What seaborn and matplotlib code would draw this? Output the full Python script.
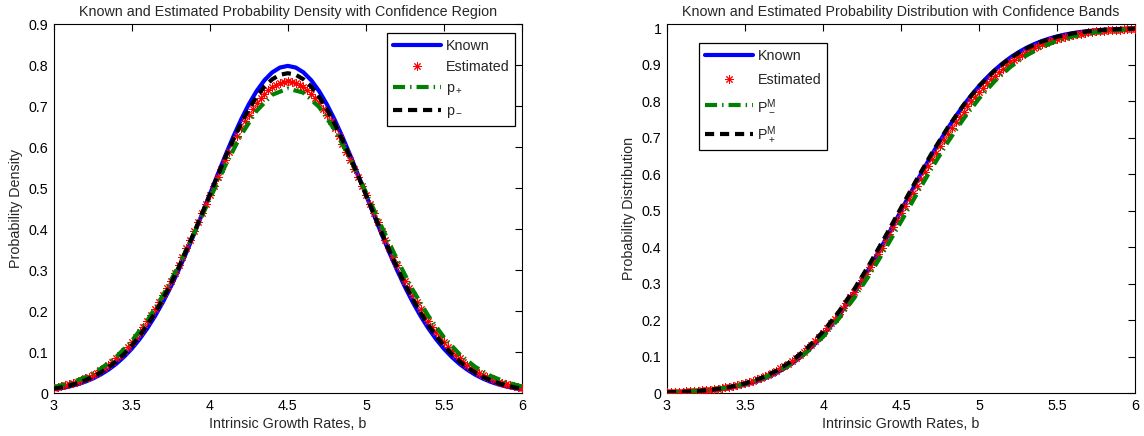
import numpy as np
import matplotlib
matplotlib.use("Agg")
import matplotlib.pyplot as plt
import seaborn as sns
from matplotlib.ticker import MultipleLocator, FuncFormatter

# ---------------- data ----------------
x_dense = np.linspace(3.0, 6.0, 121)   # step 0.025 (estimated markers)
x_fine = np.linspace(3.0, 6.0, 61)     # step 0.05
x_coarse = np.linspace(3.0, 6.0, 31)   # step 0.1

pdf_known = [0.0089, 0.0119, 0.0158, 0.0208, 0.0272, 0.0351, 0.0448, 0.0567, 0.0709, 0.0880,
             0.1080, 0.1312, 0.1579, 0.1881, 0.2218, 0.2590, 0.2995, 0.3427, 0.3884, 0.4357,
             0.4839, 0.5322, 0.5794, 0.6245, 0.6664, 0.7041, 0.7365, 0.7628, 0.7821, 0.7939,
             0.7979,
             0.7939, 0.7821, 0.7628, 0.7365, 0.7041, 0.6664, 0.6245, 0.5794, 0.5322, 0.4839,
             0.4357, 0.3884, 0.3427, 0.2995, 0.2590, 0.2218, 0.1881, 0.1579, 0.1312, 0.1080,
             0.0880, 0.0709, 0.0567, 0.0448, 0.0351, 0.0272, 0.0208, 0.0158, 0.0119, 0.0089]

pdf_estimated = [0.0128, 0.0147, 0.0168, 0.0191, 0.0217, 0.0246, 0.0279, 0.0315, 0.0354, 0.0398,
                 0.0446, 0.0499, 0.0558, 0.0621, 0.0690, 0.0765, 0.0846, 0.0934, 0.1028, 0.1130,
                 0.1238, 0.1355, 0.1478, 0.1609, 0.1748, 0.1895, 0.2049, 0.2211, 0.2380, 0.2556,
                 0.2739, 0.2928, 0.3124, 0.3325, 0.3531, 0.3741, 0.3955, 0.4171, 0.4390, 0.4609,
                 0.4828, 0.5047, 0.5263, 0.5476, 0.5685, 0.5888, 0.6085, 0.6274, 0.6454, 0.6625,
                 0.6785, 0.6932, 0.7067, 0.7188, 0.7295, 0.7387, 0.7462, 0.7522, 0.7565, 0.7590,
                 0.7599,
                 0.7590, 0.7565, 0.7522, 0.7462, 0.7387, 0.7295, 0.7188, 0.7067, 0.6932, 0.6785,
                 0.6625, 0.6454, 0.6274, 0.6085, 0.5888, 0.5685, 0.5476, 0.5263, 0.5047, 0.4828,
                 0.4609, 0.4390, 0.4171, 0.3955, 0.3741, 0.3531, 0.3325, 0.3124, 0.2928, 0.2739,
                 0.2556, 0.2380, 0.2211, 0.2049, 0.1895, 0.1748, 0.1609, 0.1478, 0.1355, 0.1238,
                 0.1130, 0.1028, 0.0934, 0.0846, 0.0765, 0.0690, 0.0621, 0.0558, 0.0499, 0.0446,
                 0.0398, 0.0354, 0.0315, 0.0279, 0.0246, 0.0217, 0.0191, 0.0168, 0.0147, 0.0128]

pdf_minus = [0.0106, 0.0140, 0.0184, 0.0240, 0.0309, 0.0394, 0.0497, 0.0623, 0.0773, 0.0948,
             0.1154, 0.1390, 0.1659, 0.1961, 0.2296, 0.2662, 0.3058, 0.3479, 0.3920, 0.4375,
             0.4837, 0.5297, 0.5745, 0.6172, 0.6567, 0.6922, 0.7226, 0.7472, 0.7652, 0.7763,
             0.7800,
             0.7763, 0.7652, 0.7472, 0.7226, 0.6922, 0.6567, 0.6172, 0.5745, 0.5297, 0.4837,
             0.4375, 0.3920, 0.3479, 0.3058, 0.2662, 0.2296, 0.1961, 0.1659, 0.1390, 0.1154,
             0.0948, 0.0773, 0.0623, 0.0497, 0.0394, 0.0309, 0.0240, 0.0184, 0.0140, 0.0106]

pdf_plus = [0.0143, 0.0237, 0.0379, 0.0587, 0.0877, 0.1267, 0.1768, 0.2382, 0.3100, 0.3897,
            0.4732, 0.5551, 0.6289, 0.6882, 0.7275, 0.7428, 0.7325, 0.6978, 0.6421, 0.5707,
            0.4899, 0.4063, 0.3254, 0.2518, 0.1881, 0.1358, 0.0947, 0.0638, 0.0415, 0.0261,
            0.0158]

cdf_known = [0.00135, 0.00187, 0.00256, 0.00347, 0.00466, 0.00621, 0.00820, 0.01072, 0.01390, 0.01786,
             0.02275, 0.02872, 0.03593, 0.04457, 0.05480, 0.06681, 0.08076, 0.09680, 0.11507, 0.13567,
             0.15866, 0.18406, 0.21186, 0.24196, 0.27425, 0.30854, 0.34458, 0.38209, 0.42074, 0.46017,
             0.50000,
             0.53983, 0.57926, 0.61791, 0.65542, 0.69146, 0.72575, 0.75804, 0.78814, 0.81594, 0.84134,
             0.86433, 0.88493, 0.90320, 0.91924, 0.93319, 0.94520, 0.95543, 0.96407, 0.97128, 0.97725,
             0.98214, 0.98610, 0.98928, 0.99180, 0.99379, 0.99534, 0.99653, 0.99744, 0.99813, 0.99865]

cdf_estimated = [0.00201, 0.00234, 0.00271, 0.00314, 0.00362, 0.00417, 0.00479, 0.00550, 0.00630, 0.00719,
                 0.00820, 0.00933, 0.01059, 0.01200, 0.01357, 0.01532, 0.01725, 0.01939, 0.02174, 0.02434,
                 0.02728, 0.03031, 0.03373, 0.03746, 0.04152, 0.04593, 0.05070, 0.05586, 0.06143, 0.06743,
                 0.07386, 0.08076, 0.08813, 0.09598, 0.10435, 0.11324, 0.12264, 0.13258, 0.14306, 0.15410,
                 0.16567, 0.17780, 0.19046, 0.20367, 0.21741, 0.23168, 0.24645, 0.26171, 0.27744, 0.29360,
                 0.31038, 0.32722, 0.34458, 0.36227, 0.38026, 0.39855, 0.41703, 0.43569, 0.45450, 0.47341,
                 0.49242, 0.51140, 0.53037, 0.54927, 0.56804, 0.58667, 0.60514, 0.62335, 0.64129, 0.65892,
                 0.67620, 0.69314, 0.70966, 0.72575, 0.74138, 0.75653, 0.77123, 0.78538, 0.79901, 0.81211,
                 0.82467, 0.83671, 0.84816, 0.85908, 0.86945, 0.87928, 0.88858, 0.89736, 0.90562, 0.91339,
                 0.92066, 0.92746, 0.93381, 0.93972, 0.94520, 0.95028, 0.95498, 0.95932, 0.96327, 0.96698,
                 0.97033, 0.97340, 0.97621, 0.97875, 0.98106, 0.98316, 0.98500, 0.98676, 0.98830, 0.98968,
                 0.99086, 0.99201, 0.99300, 0.99387, 0.99461, 0.99534, 0.99595, 0.99648, 0.99695, 0.99737,
                 0.99773]

cdf_minus = [0.00184, 0.00329, 0.00573, 0.00965, 0.01574, 0.02487, 0.03806, 0.05650, 0.08133, 0.11362,
             0.15412, 0.20327, 0.26060, 0.32535, 0.39581, 0.46991, 0.54507, 0.61863, 0.68814, 0.75150,
             0.80727, 0.85465, 0.89348, 0.92421, 0.94766, 0.96495, 0.97725, 0.98569, 0.99128, 0.99486,
             0.99706]

cdf_plus = [0.00174, 0.00321, 0.00571, 0.00981, 0.01629, 0.02612, 0.04049, 0.06069, 0.08805, 0.12366,
            0.16833, 0.22223, 0.28482, 0.35476, 0.42995, 0.50782, 0.58539, 0.65976, 0.72834, 0.78927,
            0.84134, 0.88417, 0.91807, 0.94388, 0.96281, 0.97617, 0.98524, 0.99117, 0.99490, 0.99715,
            0.99846]

x_ticks = [3, 3.5, 4, 4.5, 5, 5.5, 6]

# ---------------- style ----------------
sns.set_theme(style="white")
plt.rcParams["font.family"] = ["Liberation Sans", "DejaVu Sans"]
plt.rcParams["mathtext.fontset"] = "custom"
plt.rcParams["mathtext.rm"] = "Liberation Sans"
plt.rcParams["mathtext.it"] = "Liberation Sans:italic"
plt.rcParams["mathtext.default"] = "regular"

FS = 10.3
BLUE, RED, GREEN, BLACK = "#0000ff", "#ff0000", "#008000", "#000000"
LW = 3.0
STAR = (8, 2, 0)

fig = plt.figure(figsize=(11.44, 4.36), dpi=100)
ax1 = fig.add_axes([0.0469, 0.0986, 0.4094, 0.8463])
ax2 = fig.add_axes([0.5830, 0.0986, 0.4094, 0.8463])


def style_axes(ax, ylim, ystep):
    ax.set_xlim(3, 6)
    ax.set_ylim(*ylim)
    ax.set_xticks(x_ticks)
    ax.yaxis.set_major_locator(MultipleLocator(ystep))
    fmt = FuncFormatter(lambda v, p: f"{v:g}")
    ax.xaxis.set_major_formatter(fmt)
    ax.yaxis.set_major_formatter(fmt)
    ax.tick_params(direction="in", top=True, right=True, length=5, width=0.8,
                   labelsize=FS, colors="black", pad=4)
    for s in ax.spines.values():
        s.set_visible(True)
        s.set_color("black")
        s.set_linewidth(0.8)
    ax.grid(False)
    ax.set_facecolor("white")


def draw(ax, xk, yk, xe, ye, xg, yg, xb, yb, lab_g, lab_b):
    sns.lineplot(x=xk, y=yk, ax=ax, color=BLUE, linewidth=LW, label="Known", zorder=2)
    sns.lineplot(x=xe, y=ye, ax=ax, color=RED, linestyle="", marker=STAR, markersize=6,
                 markeredgecolor=RED, markeredgewidth=0.7, label="Estimated", zorder=3)
    sns.lineplot(x=xg, y=yg, ax=ax, color=GREEN, linewidth=LW, label=lab_g, zorder=4)
    ax.lines[-1].set_dashes([2.9, 1.2, 0.35, 1.2])
    ax.lines[-1].set_dash_capstyle("butt")
    sns.lineplot(x=xb, y=yb, ax=ax, color=BLACK, linewidth=LW, label=lab_b, zorder=5)
    ax.lines[-1].set_dashes([2.2, 1.4])
    ax.lines[-1].set_dash_capstyle("butt")


draw(ax1, x_fine, pdf_known, x_dense, pdf_estimated, x_coarse, pdf_plus, x_fine, pdf_minus,
     "p$_+$", "p$_-$")
draw(ax2, x_fine, cdf_known, x_dense, cdf_estimated, x_coarse, cdf_minus, x_coarse, cdf_plus,
     "P$^M_-$", "P$^M_+$")

style_axes(ax1, (0, 0.9), 0.1)
style_axes(ax2, (0, 1.011), 0.1)

ax1.set_title("Known and Estimated Probability Density with Confidence Region", fontsize=FS, pad=6)
ax2.set_title("Known and Estimated Probability Distribution with Confidence Bands", fontsize=FS, pad=6)
for ax, yl in ((ax1, "Probability Density"), (ax2, "Probability Distribution")):
    ax.set_xlabel("Intrinsic Growth Rates, b", fontsize=FS, labelpad=3)
    ax.set_ylabel(yl, fontsize=FS, labelpad=4)

base_kw = dict(fontsize=FS, frameon=True, fancybox=False, framealpha=1, edgecolor="black",
               borderaxespad=0, handlelength=3.4, handletextpad=0.3, borderpad=0.4)
for ax, loc, anchor, sp in ((ax1, "upper right", (0.985, 0.976), 0.5),
                            (ax2, "upper left", (0.068, 0.949), 0.72)):
    h, l = ax.get_legend_handles_labels()
    leg = ax.legend(h, l, loc=loc, bbox_to_anchor=anchor, labelspacing=sp, **base_kw)
    leg.get_frame().set_linewidth(0.9)

fig.savefig("out.png", dpi=100)
